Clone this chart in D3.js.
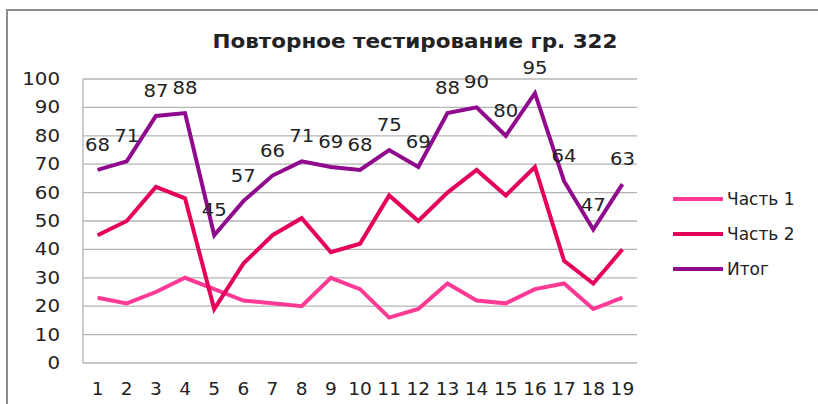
<!DOCTYPE html>
<html>
<head>
<meta charset="utf-8">
<script src="https://cdn.jsdelivr.net/npm/d3@7"></script>
<style>
body { margin:0; background:#fff; }
text { font-family: "DejaVu Sans", Verdana, sans-serif; fill:#222; }
</style>
</head>
<body>
<script>
var categories = [1,2,3,4,5,6,7,8,9,10,11,12,13,14,15,16,17,18,19];
var part1 = [23,21,25,30,26,22,21,20,30,26,16,19,28,22,21,26,28,19,23];
var part2 = [45,50,62,58,19,35,45,51,39,42,59,50,60,68,59,69,36,28,40];
var total = [68,71,87,88,45,57,66,71,69,68,75,69,88,90,80,95,64,47,63];
var seriesNames = ["Часть 1","Часть 2","Итог"];
var yTicks = [0,10,20,30,40,50,60,70,80,90,100];

var series = [
	{name:seriesNames[0], values:part1, color:"#ff3a96"},
	{name:seriesNames[1], values:part2, color:"#e5005a"},
	{name:seriesNames[2], values:total, color:"#8f0a8c"}
];

var width = 818;
var height = 404;
var margin = {left:83,right:181,top:79,bottom:41};

var svg = d3.select("body").append("svg").attr("width",width).attr("height",height);

// outer frame (only top and left edges are in view)
svg.append("path")
	.attr("d","M7,404 V10 H818")
	.attr("fill","none")
	.attr("stroke","#8c8c8c")
	.attr("stroke-width",2);

svg.append("text")
	.attr("x",415)
	.attr("y",48)
	.attr("text-anchor","middle")
	.attr("font-size",19)
	.attr("font-weight","bold")
	.attr("textLength",405)
	.attr("lengthAdjust","spacingAndGlyphs")
	.text("Повторное тестирование гр. 322");

var x = d3.scaleBand().domain(categories).range([margin.left,width-margin.right]);
var y = d3.scaleLinear().domain([0,100]).range([height-margin.bottom,margin.top]);

var chartGroup = svg.append("g");

// gridlines
chartGroup.selectAll("line.grid")
	.data(yTicks)
	.enter().append("line")
		.attr("class","grid")
		.attr("x1",margin.left)
		.attr("x2",width-margin.right)
		.attr("y1",function(d){ return y(d); })
		.attr("y2",function(d){ return y(d); })
		.attr("stroke","#b4b4b4")
		.attr("stroke-width",1.3);

chartGroup.append("line")
	.attr("x1",margin.left).attr("x2",margin.left)
	.attr("y1",y(100)).attr("y2",y(0))
	.attr("stroke","#b4b4b4")
	.attr("stroke-width",1.3);

// y labels
chartGroup.selectAll("text.ylab")
	.data(yTicks)
	.enter().append("text")
		.attr("class","ylab")
		.attr("x",60)
		.attr("y",function(d){ return y(d)+6; })
		.attr("text-anchor","end")
		.attr("font-size",17)
		.attr("textLength",function(d){ return String(d).length*12.6; })
		.attr("lengthAdjust","spacingAndGlyphs")
		.text(function(d){ return d; });

// x labels
chartGroup.selectAll("text.xlab")
	.data(categories)
	.enter().append("text")
		.attr("class","xlab")
		.attr("x",function(d){ return x(d)+x.bandwidth()/2; })
		.attr("y",395)
		.attr("text-anchor","middle")
		.attr("font-size",17)
		.attr("textLength",function(d){ return String(d).length*11.8; })
		.attr("lengthAdjust","spacingAndGlyphs")
		.text(function(d){ return d; });

var line = d3.line()
	.x(function(d,i){ return x(categories[i])+x.bandwidth()/2; })
	.y(function(d){ return y(d); });

chartGroup.selectAll("path.series")
	.data(series)
	.enter().append("path")
		.attr("class","series")
		.attr("d",function(d){ return line(d.values); })
		.attr("fill","none")
		.attr("stroke",function(d){ return d.color; })
		.attr("stroke-width",4)
		.attr("stroke-linejoin","miter");

// data labels for the total
chartGroup.selectAll("text.dlab")
	.data(total)
	.enter().append("text")
		.attr("class","dlab")
		.attr("x",function(d,i){ return x(categories[i])+x.bandwidth()/2; })
		.attr("y",function(d){ return y(d)-19; })
		.attr("text-anchor","middle")
		.attr("font-size",17)
		.attr("textLength",25)
		.attr("lengthAdjust","spacingAndGlyphs")
		.text(function(d){ return d; });

// legend
var legend = svg.selectAll("g.legend")
	.data(series)
	.enter().append("g")
		.attr("class","legend")
		.attr("transform",function(d,i){ return "translate(673,"+[199,234,269][i]+")"; });

legend.append("line")
	.attr("x1",0).attr("x2",50)
	.attr("y1",0).attr("y2",0)
	.attr("stroke",function(d){ return d.color; })
	.attr("stroke-width",4);

legend.append("text")
	.attr("x",54)
	.attr("y",6)
	.attr("font-size",17)
	.text(function(d){ return d.name; });
</script>
</body>
</html>
